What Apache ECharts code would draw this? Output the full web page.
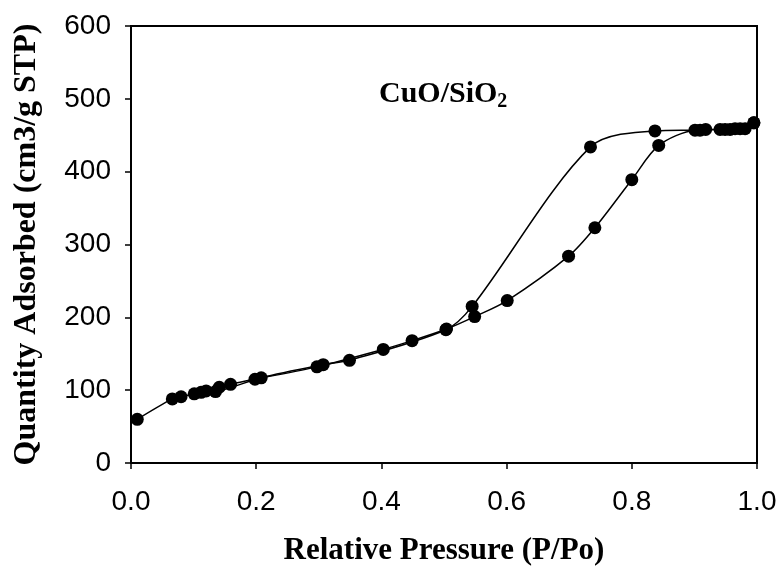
<!DOCTYPE html>
<html>
<head>
<meta charset="utf-8">
<script src="https://cdn.jsdelivr.net/npm/echarts@6/dist/echarts.min.js"></script>
<style>
  html, body { margin: 0; padding: 0; background: #fff; }
  #chart { width: 781px; height: 571px; }
</style>
</head>
<body>
<div id="chart"></div>
<script>
// adsorption branch
const adsX = [0.010, 0.066, 0.080, 0.101, 0.120, 0.141, 0.159, 0.198, 0.297, 0.403, 0.449, 0.504, 0.549, 0.601, 0.699, 0.741, 0.800, 0.843, 0.901, 0.941, 0.957, 0.973, 0.995];
const adsY = [60, 88, 91, 95, 99, 104, 108, 115, 132, 156, 168, 184, 201, 223, 284, 323, 389, 436, 457, 458, 458, 459, 467];
// desorption branch
const desX = [0.995, 0.981, 0.965, 0.949, 0.918, 0.909, 0.837, 0.734, 0.545, 0.503, 0.349, 0.307, 0.208, 0.135, 0.112];
const desY = [467, 459, 459, 458, 458, 457, 456, 434, 215, 183, 141, 135, 117, 98, 97];

const xTicks = [0, 0.2, 0.4, 0.6, 0.8, 1.0];
const yTicks = [0, 100, 200, 300, 400, 500, 600];

const chart = echarts.init(document.getElementById("chart"));

const pairs = (xs, ys) => xs.map((x, i) => [x, ys[i]]);

const lineSeries = (name, data) => ({
  name: name,
  type: "line",
  smooth: 0.3,
  data: data,
  symbol: "circle",
  symbolSize: 13,
  itemStyle: { color: "#000" },
  lineStyle: { color: "#000", width: 1.5 },
  z: 3,
});

const option = {
  backgroundColor: "#fff",
  animation: false,
  title: {
    text: "{a|CuO/SiO}{b|2}",
    left: 374,
    top: 72,
    textStyle: {
      rich: {
        a: { fontFamily: "Liberation Serif", fontWeight: "bold", fontSize: 30, color: "#000" },
        b: { fontFamily: "Liberation Serif", fontWeight: "bold", fontSize: 20, color: "#000", padding: [15, 0, 0, 0] },
      },
    },
  },
  grid: {
    left: 131,
    right: 24,
    top: 26,
    bottom: 108,
    show: true,
    borderColor: "#000",
    borderWidth: 2,
  },
  xAxis: {
    type: "value",
    min: xTicks[0],
    max: xTicks[xTicks.length - 1],
    interval: 0.2,
    name: "Relative Pressure (P/Po)",
    nameLocation: "middle",
    nameGap: 72,
    nameTextStyle: { fontFamily: "Liberation Serif", fontWeight: "bold", fontSize: 31, color: "#000" },
    axisLine: { lineStyle: { color: "#000", width: 2 } },
    axisTick: { length: 6, lineStyle: { color: "#000", width: 1.5 } },
    axisLabel: {
      margin: 25,
      fontFamily: "Liberation Sans",
      fontSize: 28,
      color: "#000",
      formatter: (v) => v.toFixed(1),
    },
    splitLine: { show: false },
  },
  yAxis: {
    type: "value",
    min: yTicks[0],
    max: yTicks[yTicks.length - 1],
    interval: 100,
    name: "Quantity Adsorbed (cm3/g STP)",
    nameLocation: "middle",
    nameGap: 88,
    nameTextStyle: { fontFamily: "Liberation Serif", fontWeight: "bold", fontSize: 32, color: "#000" },
    axisLine: { lineStyle: { color: "#000", width: 2 } },
    axisTick: { length: 6, lineStyle: { color: "#000", width: 1.5 } },
    axisLabel: {
      margin: 20,
      fontFamily: "Liberation Sans",
      fontSize: 28,
      color: "#000",
    },
    splitLine: { show: false },
  },
  series: [
    lineSeries("Adsorption", pairs(adsX, adsY)),
    lineSeries("Desorption", pairs(desX, desY)),
  ],
};

chart.setOption(option);
</script>
</body>
</html>
